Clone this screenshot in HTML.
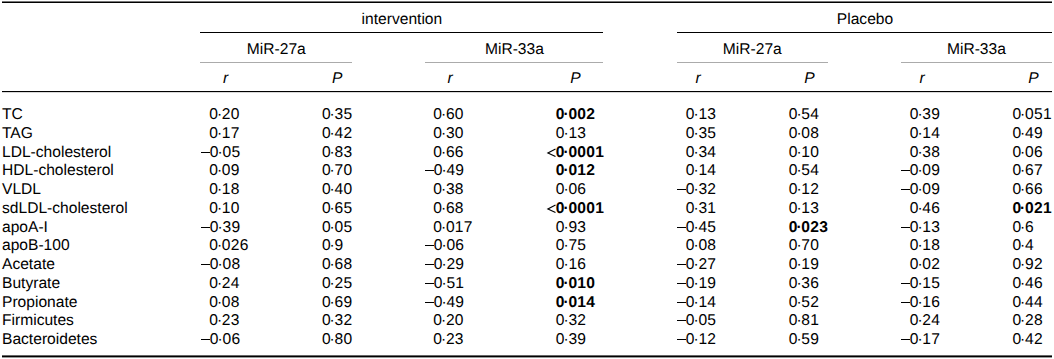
<!DOCTYPE html>
<html><head><meta charset="utf-8"><style>
html,body{margin:0;padding:0;background:#fff;}
body{width:1054px;height:359px;position:relative;overflow:hidden;text-rendering:geometricPrecision;font-family:"Liberation Sans",sans-serif;font-size:15.6px;color:#000;letter-spacing:0px;}
.t{position:absolute;white-space:nowrap;line-height:20px;height:20px;}
.c{text-align:center;}
.r{position:absolute;background:#000;}
.g{position:absolute;background:#ababab;height:1px;}
.n{position:absolute;white-space:nowrap;letter-spacing:0.3px;line-height:20px;height:20px;}
.pre{position:absolute;right:100%;top:0;font-weight:normal;}
i.d{font-style:normal;position:relative;top:0px;margin-left:-1.3px;margin-right:-0.6px;}
b{font-weight:bold;}
.it{font-style:italic;}
</style></head><body>

<div class="r" style="left:2px;top:1px;width:1050px;height:1px;background:#777"></div>
<div class="r" style="left:2px;top:2px;width:1050px;height:1px"></div>
<div class="r" style="left:200px;top:32px;width:403px;height:1px"></div>
<div class="r" style="left:677px;top:32px;width:375px;height:1px"></div>
<div class="g" style="left:200px;top:62px;width:152px"></div>
<div class="g" style="left:425px;top:62px;width:178px"></div>
<div class="g" style="left:677px;top:62px;width:151px"></div>
<div class="g" style="left:901px;top:62px;width:151px"></div>
<div class="r" style="left:2px;top:91px;width:1050px;height:1px"></div>
<div class="r" style="left:2px;top:92px;width:1050px;height:1px;background:#d8d8d8"></div>
<div class="r" style="left:2px;top:355px;width:1050px;height:1px;background:#666"></div>
<div class="r" style="left:2px;top:356px;width:1050px;height:1px"></div>
<div class="r" style="left:2px;top:357px;width:1050px;height:1px;background:#999"></div>
<div class="t c " style="left:251.90px;top:9.59px;width:300px">intervention</div>
<div class="t c " style="left:715.00px;top:9.59px;width:300px">Placebo</div>
<div class="t c " style="left:126.30px;top:39.59px;width:300px">MiR-27a</div>
<div class="t c " style="left:364.40px;top:39.59px;width:300px">MiR-33a</div>
<div class="t c " style="left:602.30px;top:39.59px;width:300px">MiR-27a</div>
<div class="t c " style="left:826.40px;top:39.59px;width:300px">MiR-33a</div>
<div class="t c it" style="left:75.70px;top:68.59px;width:300px">r</div>
<div class="t c it" style="left:187.10px;top:68.59px;width:300px">P</div>
<div class="t c it" style="left:300.00px;top:68.59px;width:300px">r</div>
<div class="t c it" style="left:425.40px;top:68.59px;width:300px">P</div>
<div class="t c it" style="left:548.00px;top:68.59px;width:300px">r</div>
<div class="t c it" style="left:659.50px;top:68.59px;width:300px">P</div>
<div class="t c it" style="left:772.00px;top:68.59px;width:300px">r</div>
<div class="t c it" style="left:883.40px;top:68.59px;width:300px">P</div>
<div class="t" style="left:2px;top:104.59px">TC</div>
<div class="n" style="left:209.25px;top:104.59px">0<i class="d">·</i>20</div>
<div class="n" style="left:321.90px;top:104.59px">0<i class="d">·</i>35</div>
<div class="n" style="left:433.30px;top:104.59px">0<i class="d">·</i>60</div>
<div class="n" style="left:555.80px;top:104.59px"><b>0<i class="d">·</i>002</b></div>
<div class="n" style="left:685.80px;top:104.59px">0<i class="d">·</i>13</div>
<div class="n" style="left:788.75px;top:104.59px">0<i class="d">·</i>54</div>
<div class="n" style="left:909.70px;top:104.59px">0<i class="d">·</i>39</div>
<div class="n" style="left:1012.40px;top:104.59px">0<i class="d">·</i>051</div>
<div class="t" style="left:2px;top:123.59px">TAG</div>
<div class="n" style="left:209.25px;top:123.59px">0<i class="d">·</i>17</div>
<div class="n" style="left:321.90px;top:123.59px">0<i class="d">·</i>42</div>
<div class="n" style="left:433.30px;top:123.59px">0<i class="d">·</i>30</div>
<div class="n" style="left:555.80px;top:123.59px">0<i class="d">·</i>13</div>
<div class="n" style="left:685.80px;top:123.59px">0<i class="d">·</i>35</div>
<div class="n" style="left:788.75px;top:123.59px">0<i class="d">·</i>08</div>
<div class="n" style="left:909.70px;top:123.59px">0<i class="d">·</i>14</div>
<div class="n" style="left:1012.40px;top:123.59px">0<i class="d">·</i>49</div>
<div class="t" style="left:2px;top:142.59px">LDL-cholesterol</div>
<div class="r" style="left:201.05px;top:152px;width:9px;height:1px"></div>
<div class="n" style="left:209.85px;top:142.59px">0<i class="d">·</i>05</div>
<div class="n" style="left:321.90px;top:142.59px">0<i class="d">·</i>83</div>
<div class="n" style="left:433.30px;top:142.59px">0<i class="d">·</i>66</div>
<div class="n" style="left:555.80px;top:142.59px"><b>0<i class="d">·</i>0001</b></div>
<svg style="position:absolute;left:0;top:0" width="1054" height="359"><polyline points="555.5,149.1 547.9,152.9 555.5,156.6" fill="none" stroke="#000" stroke-width="1.15"/></svg>
<div class="n" style="left:685.80px;top:142.59px">0<i class="d">·</i>34</div>
<div class="n" style="left:788.75px;top:142.59px">0<i class="d">·</i>10</div>
<div class="n" style="left:909.70px;top:142.59px">0<i class="d">·</i>38</div>
<div class="n" style="left:1012.40px;top:142.59px">0<i class="d">·</i>06</div>
<div class="t" style="left:2px;top:160.59px">HDL-cholesterol</div>
<div class="n" style="left:209.25px;top:160.59px">0<i class="d">·</i>09</div>
<div class="n" style="left:321.90px;top:160.59px">0<i class="d">·</i>70</div>
<div class="r" style="left:425.00px;top:170px;width:9px;height:1px"></div>
<div class="n" style="left:433.80px;top:160.59px">0<i class="d">·</i>49</div>
<div class="n" style="left:555.80px;top:160.59px"><b>0<i class="d">·</i>012</b></div>
<div class="n" style="left:685.80px;top:160.59px">0<i class="d">·</i>14</div>
<div class="n" style="left:788.75px;top:160.59px">0<i class="d">·</i>54</div>
<div class="r" style="left:900.90px;top:170px;width:9px;height:1px"></div>
<div class="n" style="left:909.70px;top:160.59px">0<i class="d">·</i>09</div>
<div class="n" style="left:1012.40px;top:160.59px">0<i class="d">·</i>67</div>
<div class="t" style="left:2px;top:179.59px">VLDL</div>
<div class="n" style="left:209.25px;top:179.59px">0<i class="d">·</i>18</div>
<div class="n" style="left:321.90px;top:179.59px">0<i class="d">·</i>40</div>
<div class="n" style="left:433.30px;top:179.59px">0<i class="d">·</i>38</div>
<div class="n" style="left:555.80px;top:179.59px">0<i class="d">·</i>06</div>
<div class="r" style="left:677.00px;top:189px;width:9px;height:1px"></div>
<div class="n" style="left:685.80px;top:179.59px">0<i class="d">·</i>32</div>
<div class="n" style="left:788.75px;top:179.59px">0<i class="d">·</i>12</div>
<div class="r" style="left:900.90px;top:189px;width:9px;height:1px"></div>
<div class="n" style="left:909.70px;top:179.59px">0<i class="d">·</i>09</div>
<div class="n" style="left:1012.40px;top:179.59px">0<i class="d">·</i>66</div>
<div class="t" style="left:2px;top:198.59px">sdLDL-cholesterol</div>
<div class="n" style="left:209.25px;top:198.59px">0<i class="d">·</i>10</div>
<div class="n" style="left:321.90px;top:198.59px">0<i class="d">·</i>65</div>
<div class="n" style="left:433.30px;top:198.59px">0<i class="d">·</i>68</div>
<div class="n" style="left:555.80px;top:198.59px"><b>0<i class="d">·</i>0001</b></div>
<svg style="position:absolute;left:0;top:0" width="1054" height="359"><polyline points="555.5,205.1 547.9,208.9 555.5,212.6" fill="none" stroke="#000" stroke-width="1.15"/></svg>
<div class="n" style="left:685.80px;top:198.59px">0<i class="d">·</i>31</div>
<div class="n" style="left:788.75px;top:198.59px">0<i class="d">·</i>13</div>
<div class="n" style="left:909.70px;top:198.59px">0<i class="d">·</i>46</div>
<div class="n" style="left:1012.40px;top:198.59px"><b>0<i class="d">·</i>021</b></div>
<div class="t" style="left:2px;top:217.59px">apoA-I</div>
<div class="r" style="left:201.05px;top:227px;width:9px;height:1px"></div>
<div class="n" style="left:209.85px;top:217.59px">0<i class="d">·</i>39</div>
<div class="n" style="left:321.90px;top:217.59px">0<i class="d">·</i>05</div>
<div class="n" style="left:433.30px;top:217.59px">0<i class="d">·</i>017</div>
<div class="n" style="left:555.80px;top:217.59px">0<i class="d">·</i>93</div>
<div class="r" style="left:677.00px;top:227px;width:9px;height:1px"></div>
<div class="n" style="left:685.80px;top:217.59px">0<i class="d">·</i>45</div>
<div class="n" style="left:788.75px;top:217.59px"><b>0<i class="d">·</i>023</b></div>
<div class="r" style="left:900.90px;top:227px;width:9px;height:1px"></div>
<div class="n" style="left:909.70px;top:217.59px">0<i class="d">·</i>13</div>
<div class="n" style="left:1012.40px;top:217.59px">0<i class="d">·</i>6</div>
<div class="t" style="left:2px;top:235.59px">apoB-100</div>
<div class="n" style="left:209.25px;top:235.59px">0<i class="d">·</i>026</div>
<div class="n" style="left:321.90px;top:235.59px">0<i class="d">·</i>9</div>
<div class="r" style="left:425.00px;top:245px;width:9px;height:1px"></div>
<div class="n" style="left:433.80px;top:235.59px">0<i class="d">·</i>06</div>
<div class="n" style="left:555.80px;top:235.59px">0<i class="d">·</i>75</div>
<div class="n" style="left:685.80px;top:235.59px">0<i class="d">·</i>08</div>
<div class="n" style="left:788.75px;top:235.59px">0<i class="d">·</i>70</div>
<div class="n" style="left:909.70px;top:235.59px">0<i class="d">·</i>18</div>
<div class="n" style="left:1012.40px;top:235.59px">0<i class="d">·</i>4</div>
<div class="t" style="left:2px;top:254.59px">Acetate</div>
<div class="r" style="left:201.05px;top:264px;width:9px;height:1px"></div>
<div class="n" style="left:209.85px;top:254.59px">0<i class="d">·</i>08</div>
<div class="n" style="left:321.90px;top:254.59px">0<i class="d">·</i>68</div>
<div class="r" style="left:425.00px;top:264px;width:9px;height:1px"></div>
<div class="n" style="left:433.80px;top:254.59px">0<i class="d">·</i>29</div>
<div class="n" style="left:555.80px;top:254.59px">0<i class="d">·</i>16</div>
<div class="r" style="left:677.00px;top:264px;width:9px;height:1px"></div>
<div class="n" style="left:685.80px;top:254.59px">0<i class="d">·</i>27</div>
<div class="n" style="left:788.75px;top:254.59px">0<i class="d">·</i>19</div>
<div class="n" style="left:909.70px;top:254.59px">0<i class="d">·</i>02</div>
<div class="n" style="left:1012.40px;top:254.59px">0<i class="d">·</i>92</div>
<div class="t" style="left:2px;top:273.59px">Butyrate</div>
<div class="n" style="left:209.25px;top:273.59px">0<i class="d">·</i>24</div>
<div class="n" style="left:321.90px;top:273.59px">0<i class="d">·</i>25</div>
<div class="r" style="left:425.00px;top:283px;width:9px;height:1px"></div>
<div class="n" style="left:433.80px;top:273.59px">0<i class="d">·</i>51</div>
<div class="n" style="left:555.80px;top:273.59px"><b>0<i class="d">·</i>010</b></div>
<div class="r" style="left:677.00px;top:283px;width:9px;height:1px"></div>
<div class="n" style="left:685.80px;top:273.59px">0<i class="d">·</i>19</div>
<div class="n" style="left:788.75px;top:273.59px">0<i class="d">·</i>36</div>
<div class="r" style="left:900.90px;top:283px;width:9px;height:1px"></div>
<div class="n" style="left:909.70px;top:273.59px">0<i class="d">·</i>15</div>
<div class="n" style="left:1012.40px;top:273.59px">0<i class="d">·</i>46</div>
<div class="t" style="left:2px;top:292.59px">Propionate</div>
<div class="n" style="left:209.25px;top:292.59px">0<i class="d">·</i>08</div>
<div class="n" style="left:321.90px;top:292.59px">0<i class="d">·</i>69</div>
<div class="r" style="left:425.00px;top:302px;width:9px;height:1px"></div>
<div class="n" style="left:433.80px;top:292.59px">0<i class="d">·</i>49</div>
<div class="n" style="left:555.80px;top:292.59px"><b>0<i class="d">·</i>014</b></div>
<div class="r" style="left:677.00px;top:302px;width:9px;height:1px"></div>
<div class="n" style="left:685.80px;top:292.59px">0<i class="d">·</i>14</div>
<div class="n" style="left:788.75px;top:292.59px">0<i class="d">·</i>52</div>
<div class="r" style="left:900.90px;top:302px;width:9px;height:1px"></div>
<div class="n" style="left:909.70px;top:292.59px">0<i class="d">·</i>16</div>
<div class="n" style="left:1012.40px;top:292.59px">0<i class="d">·</i>44</div>
<div class="t" style="left:2px;top:310.59px">Firmicutes</div>
<div class="n" style="left:209.25px;top:310.59px">0<i class="d">·</i>23</div>
<div class="n" style="left:321.90px;top:310.59px">0<i class="d">·</i>32</div>
<div class="n" style="left:433.30px;top:310.59px">0<i class="d">·</i>20</div>
<div class="n" style="left:555.80px;top:310.59px">0<i class="d">·</i>32</div>
<div class="r" style="left:677.00px;top:320px;width:9px;height:1px"></div>
<div class="n" style="left:685.80px;top:310.59px">0<i class="d">·</i>05</div>
<div class="n" style="left:788.75px;top:310.59px">0<i class="d">·</i>81</div>
<div class="n" style="left:909.70px;top:310.59px">0<i class="d">·</i>24</div>
<div class="n" style="left:1012.40px;top:310.59px">0<i class="d">·</i>28</div>
<div class="t" style="left:2px;top:329.59px">Bacteroidetes</div>
<div class="r" style="left:201.05px;top:339px;width:9px;height:1px"></div>
<div class="n" style="left:209.85px;top:329.59px">0<i class="d">·</i>06</div>
<div class="n" style="left:321.90px;top:329.59px">0<i class="d">·</i>80</div>
<div class="n" style="left:433.30px;top:329.59px">0<i class="d">·</i>23</div>
<div class="n" style="left:555.80px;top:329.59px">0<i class="d">·</i>39</div>
<div class="r" style="left:677.00px;top:339px;width:9px;height:1px"></div>
<div class="n" style="left:685.80px;top:329.59px">0<i class="d">·</i>12</div>
<div class="n" style="left:788.75px;top:329.59px">0<i class="d">·</i>59</div>
<div class="r" style="left:900.90px;top:339px;width:9px;height:1px"></div>
<div class="n" style="left:909.70px;top:329.59px">0<i class="d">·</i>17</div>
<div class="n" style="left:1012.40px;top:329.59px">0<i class="d">·</i>42</div>
</body></html>
